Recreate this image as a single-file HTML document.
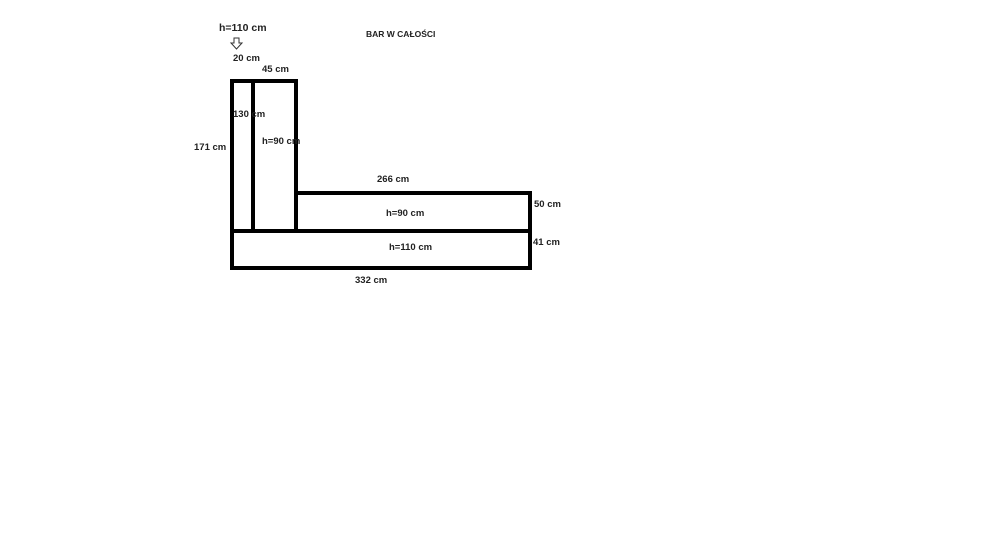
<!DOCTYPE html>
<html><head><style>
body{margin:0;background:#fff;width:1000px;height:553px;overflow:hidden;position:relative;font-family:"Liberation Sans",Arial,sans-serif;font-weight:bold;color:#222}
.t{position:absolute;font-size:9.5px;line-height:10px;white-space:nowrap}
</style></head><body>
<svg width="1000" height="553" style="position:absolute;left:0;top:0">
<g stroke="#000" stroke-width="4" fill="none">
<line x1="232" y1="79" x2="232" y2="270"/>
<line x1="253" y1="79" x2="253" y2="231"/>
<line x1="296" y1="79" x2="296" y2="231"/>
<line x1="230" y1="81" x2="298" y2="81"/>
<line x1="296" y1="193" x2="532" y2="193"/>
<line x1="530" y1="191" x2="530" y2="270"/>
<line x1="230" y1="231" x2="532" y2="231"/>
<line x1="230" y1="268" x2="532" y2="268"/>
</g>
<path d="M234 38 h5 v5 h3 l-5.5 6 l-5.5 -6 h3 z" fill="#fff" stroke="#333" stroke-width="1"/>
</svg>
<div class="t" style="left:219px;top:23px;font-size:10.5px">h=110 cm</div>
<div class="t" style="left:366px;top:29px;font-size:8.5px">BAR W CAŁOŚCI</div>
<div class="t" style="left:233px;top:54px">20 cm</div>
<div class="t" style="left:262px;top:65px">45 cm</div>
<div class="t" style="left:233px;top:110px">130 cm</div>
<div class="t" style="left:194px;top:143px">171 cm</div>
<div class="t" style="left:262px;top:137px">h=90 cm</div>
<div class="t" style="left:377px;top:175px">266 cm</div>
<div class="t" style="left:386px;top:209px">h=90 cm</div>
<div class="t" style="left:534px;top:200px">50 cm</div>
<div class="t" style="left:389px;top:243px">h=110 cm</div>
<div class="t" style="left:533px;top:238px">41 cm</div>
<div class="t" style="left:355px;top:276px">332 cm</div>
</body></html>
